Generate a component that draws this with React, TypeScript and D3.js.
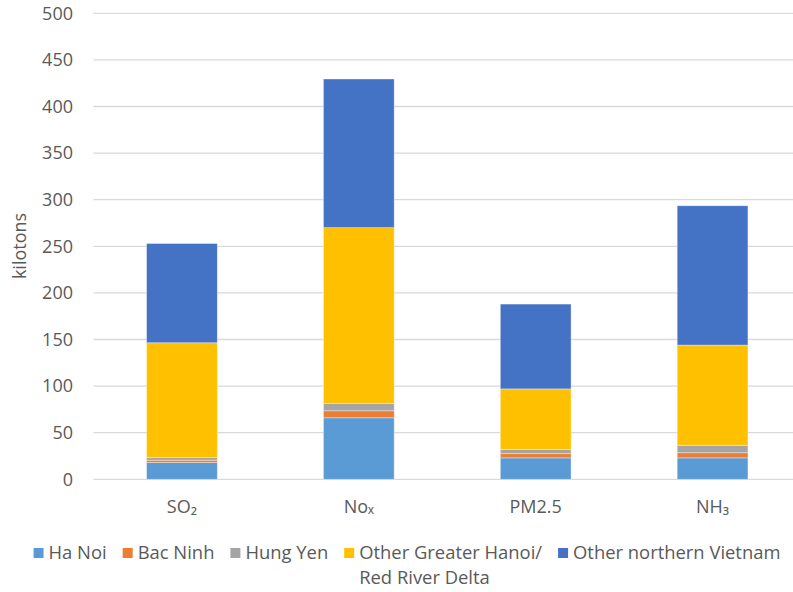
import React, { useEffect, useRef } from 'react';
import * as d3 from 'd3';

const categories = ['SO₂', 'Noₓ', 'PM2.5', 'NH₃'];
const seriesNames = ['Ha Noi', 'Bac Ninh', 'Hung Yen', 'Other Greater Hanoi/\nRed River Delta', 'Other northern Vietnam'];
const haNoi = [18, 66, 23, 23];
const bacNinh = [2.5, 7.5, 4.5, 5.5];
const hungYen = [3, 8, 4.5, 8];
const otherGreaterHanoi = [123, 188.5, 65, 107.5];
const otherNorthern = [106.5, 159.5, 91, 149.5];
const yTicks = [0, 50, 100, 150, 200, 250, 300, 350, 400, 450, 500];

const colors = ['#5B9BD5', '#ED7D31', '#A5A5A5', '#FFC000', '#4472C4'];

const W = 793;
const H = 592;
const FONT = "'Open Sans', sans-serif";
const TEXT = '#595959';

const App: React.FC = () => {
    const ref = useRef<SVGSVGElement>(null);

    useEffect(() => {
        if (!ref.current) return;
        const svg = d3.select(ref.current);
        svg.selectAll('*').remove();

        const values = [haNoi, bacNinh, hungYen, otherGreaterHanoi, otherNorthern];
        const rows = categories.map((c, i) => {
            const r: Record<string, number | string> = { cat: c };
            values.forEach((v, k) => (r['s' + k] = v[i]));
            return r;
        });
        const keys = values.map((_, k) => 's' + k);
        const stack = d3.stack<Record<string, number | string>>().keys(keys)(rows);

        const x = d3.scaleBand().domain(categories).range([93.5, 801]).paddingInner(0.6).paddingOuter(0.3);
        const y = d3.scaleLinear().domain([0, 500]).range([479.3, 13.3]);

        // gridlines
        svg.append('g')
            .selectAll('line')
            .data(yTicks)
            .enter()
            .append('line')
            .attr('x1', 93.5)
            .attr('x2', W)
            .attr('y1', (d) => y(d))
            .attr('y2', (d) => y(d))
            .attr('stroke', '#D9D9D9')
            .attr('stroke-width', 1.3);

        // tick labels
        svg.append('g')
            .selectAll('text')
            .data(yTicks)
            .enter()
            .append('text')
            .attr('x', 73)
            .attr('y', (d) => y(d))
            .attr('dy', '0.35em')
            .attr('text-anchor', 'end')
            .attr('font-family', FONT)
            .attr('font-size', 18)
            .attr('fill', TEXT)
            .text((d) => d);

        // bars
        stack.forEach((layer, k) => {
            svg.append('g')
                .selectAll('rect')
                .data(layer)
                .enter()
                .append('rect')
                .attr('x', (d) => x(d.data.cat as string)!)
                .attr('width', x.bandwidth())
                .attr('y', (d) => y(d[1]))
                .attr('height', (d) => y(d[0]) - y(d[1]))
                .attr('fill', colors[k])
                .attr('stroke', '#ffffff')
                .attr('stroke-opacity', 0.45)
                .attr('stroke-width', 0.8);
        });

        // category labels
        svg.append('g')
            .selectAll('text')
            .data(categories)
            .enter()
            .append('text')
            .attr('x', (d) => x(d)! + x.bandwidth() / 2)
            .attr('y', 513)
            .attr('text-anchor', 'middle')
            .attr('font-family', FONT)
            .attr('font-size', 18)
            .attr('fill', TEXT)
            .text((d) => d);

        // y axis title
        svg.append('text')
            .attr('transform', 'translate(26,246) rotate(-90)')
            .attr('text-anchor', 'middle')
            .attr('font-family', FONT)
            .attr('font-size', 18)
            .attr('fill', TEXT)
            .text('kilotons');

        // legend
        const legend = svg.append('g');
        const items: { g: d3.Selection<SVGGElement, unknown, null, undefined>; w: number }[] = [];
        seriesNames.forEach((name, k) => {
            const g = legend.append('g');
            g.append('rect').attr('x', 0).attr('y', -5).attr('width', 10).attr('height', 10).attr('fill', colors[k]);
            const lines = name.split('\n');
            let tw = 0;
            lines.forEach((ln, li) => {
                const t = g.append('text')
                    .attr('x', 15)
                    .attr('y', li * 25)
                    .attr('dy', '0.35em')
                    .attr('font-family', FONT)
                    .attr('font-size', 18.4)
                    .attr('fill', TEXT)
                    .text(ln);
                tw = Math.max(tw, (t.node() as SVGTextElement).getComputedTextLength());
            });
            items.push({ g, w: 15 + tw });
        });
        const gap = 16;
        const total = items.reduce((a, it) => a + it.w, 0) + gap * (items.length - 1);
        let cx = 407 - total / 2;
        items.forEach((it) => {
            it.g.attr('transform', `translate(${cx},553)`);
            cx += it.w + gap;
        });
    }, []);

    return (
        <svg
            ref={ref}
            width={W}
            height={H}
            style={{ position: 'absolute', left: 0, top: 0, background: '#fff' }}
        />
    );
};

export default App;
